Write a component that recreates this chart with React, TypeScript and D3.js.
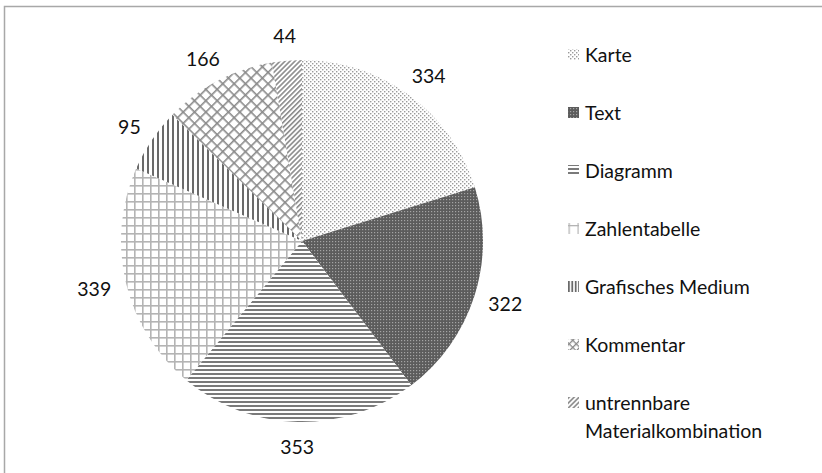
import React from "react";
import * as d3 from "d3";

const categories = [
  "Karte",
  "Text",
  "Diagramm",
  "Zahlentabelle",
  "Grafisches Medium",
  "Kommentar",
  "untrennbare Materialkombination",
];
const values = [334, 322, 353, 339, 95, 166, 44];
const legendLines = [
  ["Karte"],
  ["Text"],
  ["Diagramm"],
  ["Zahlentabelle"],
  ["Grafisches Medium"],
  ["Kommentar"],
  ["untrennbare", "Materialkombination"],
];
const patternIds = ["pKarte", "pText", "pDiag", "pZahl", "pGraf", "pKomm", "pUntr"];

const W = 822;
const H = 473;
const cx = 302;
const cy = 241;
const R = 181;
const FONT = "Lato, 'Open Sans', sans-serif";

export default function App() {
  const pie = d3
    .pie<number>()
    .sort(null)
    .value((d) => d);
  const arcs = pie(values);
  const arc = d3.arc<d3.PieArcDatum<number>>().innerRadius(0).outerRadius(R);

  const legendY = d3
    .scalePoint<number>()
    .domain(d3.range(categories.length))
    .range([54, 402]);

  return (
    <svg
      width={W}
      height={H}
      style={{ position: "absolute", left: 0, top: 0, background: "#fff" }}
    >
      <defs>
        <pattern id="pKarte" width="4" height="4" patternUnits="userSpaceOnUse">
          <rect width="4" height="4" fill="#fff" />
          <rect x="0" y="0" width="1.4" height="1.4" fill="#9a9a9a" />
          <rect x="2" y="2" width="1.4" height="1.4" fill="#9a9a9a" />
        </pattern>
        <pattern id="pText" width="3" height="3" patternUnits="userSpaceOnUse">
          <rect width="3" height="3" fill="#5c5c5c" />
          <rect x="0" y="0" width="1.2" height="1.2" fill="#a4a4a4" />
        </pattern>
        <pattern id="pDiag" width="4" height="4" patternUnits="userSpaceOnUse">
          <rect width="4" height="4" fill="#fff" />
          <rect x="0" y="0" width="4" height="2" fill="#7a7a7a" />
        </pattern>
        <pattern id="pZahl" width="8" height="8" patternUnits="userSpaceOnUse">
          <rect width="8" height="8" fill="#fff" />
          <rect x="0" y="0" width="8" height="1.6" fill="#b4b4b4" />
          <rect x="0" y="0" width="1.6" height="8" fill="#b4b4b4" />
        </pattern>
        <pattern id="pGraf" width="5" height="5" patternUnits="userSpaceOnUse">
          <rect width="5" height="5" fill="#fff" />
          <rect x="0" y="0" width="2" height="5" fill="#6a6a6a" />
        </pattern>
        <pattern
          id="pKomm"
          width="8"
          height="8"
          patternUnits="userSpaceOnUse"
          patternTransform="rotate(45)"
        >
          <rect width="8" height="8" fill="#fff" />
          <rect x="0" y="0" width="8" height="1.6" fill="#8a8a8a" />
          <rect x="0" y="0" width="1.6" height="8" fill="#8a8a8a" />
        </pattern>
        <pattern
          id="pUntr"
          width="3.5"
          height="3.5"
          patternUnits="userSpaceOnUse"
          patternTransform="rotate(45)"
        >
          <rect width="3.5" height="3.5" fill="#fff" />
          <rect x="0" y="0" width="1.6" height="3.5" fill="#8a8a8a" />
        </pattern>
        {/* smaller-scale variants for legend keys */}
        <pattern
          id="lKomm"
          width="5"
          height="5"
          patternUnits="userSpaceOnUse"
          patternTransform="rotate(45)"
        >
          <rect width="5" height="5" fill="#fff" />
          <rect x="0" y="0" width="5" height="1.3" fill="#8a8a8a" />
          <rect x="0" y="0" width="1.3" height="5" fill="#8a8a8a" />
        </pattern>
        <pattern id="lZahl" width="9" height="9" patternUnits="userSpaceOnUse" x="568.5">
          <rect width="9" height="9" fill="#fff" />
          <rect x="0" y="0" width="9" height="1.3" fill="#b4b4b4" />
          <rect x="0" y="0" width="1.3" height="9" fill="#b4b4b4" />
        </pattern>
        <pattern id="lGraf" width="3.4" height="5" patternUnits="userSpaceOnUse" x="568">
          <rect width="3.4" height="5" fill="#fff" />
          <rect x="0" y="0" width="1.8" height="5" fill="#6a6a6a" />
        </pattern>
      </defs>

      {/* chart frame (top and left visible) */}
      <rect
        x={4.5}
        y={6.5}
        width={W + 20}
        height={H + 20}
        fill="none"
        stroke="#a8a8a8"
        strokeWidth={1.5}
      />

      <g transform={`translate(${cx},${cy})`}>
        {arcs.map((a, i) => (
          <path key={i} d={arc(a) || ""} fill={`url(#${patternIds[i]})`} />
        ))}
        {arcs.map((a, i) => {
          const mid = (a.startAngle + a.endAngle) / 2;
          const s = Math.sin(mid);
          const c = -Math.cos(mid);
          const text = String(values[i]);
          const w = text.length * 11;
          const h = 18;
          const rr = R + 16;
          const x = rr * s + (w / 2) * s;
          const y = rr * c + (h / 2) * c;
          return (
            <text
              key={i}
              x={x}
              y={y}
              textAnchor="middle"
              dominantBaseline="central"
              fontFamily={FONT}
              fontSize={19.5}
              fill="#111"
            >
              {text}
            </text>
          );
        })}
      </g>

      <g>
        {categories.map((cat, i) => {
          const y = legendY(i) as number;
          const legendFill =
            i === 5 ? "url(#lKomm)" : i === 3 ? "url(#lZahl)" : i === 4 ? "url(#lGraf)" : `url(#${patternIds[i]})`;
          return (
            <g key={cat}>
              <rect x={568} y={y - 5} width={11} height={11} fill={legendFill} />
              {legendLines[i].map((ln, j) => (
                <text
                  key={j}
                  x={585}
                  y={y + j * 28}
                  dominantBaseline="central"
                  fontFamily={FONT}
                  fontSize={19.5}
                  fill="#111"
                >
                  {ln}
                </text>
              ))}
            </g>
          );
        })}
      </g>
    </svg>
  );
}
